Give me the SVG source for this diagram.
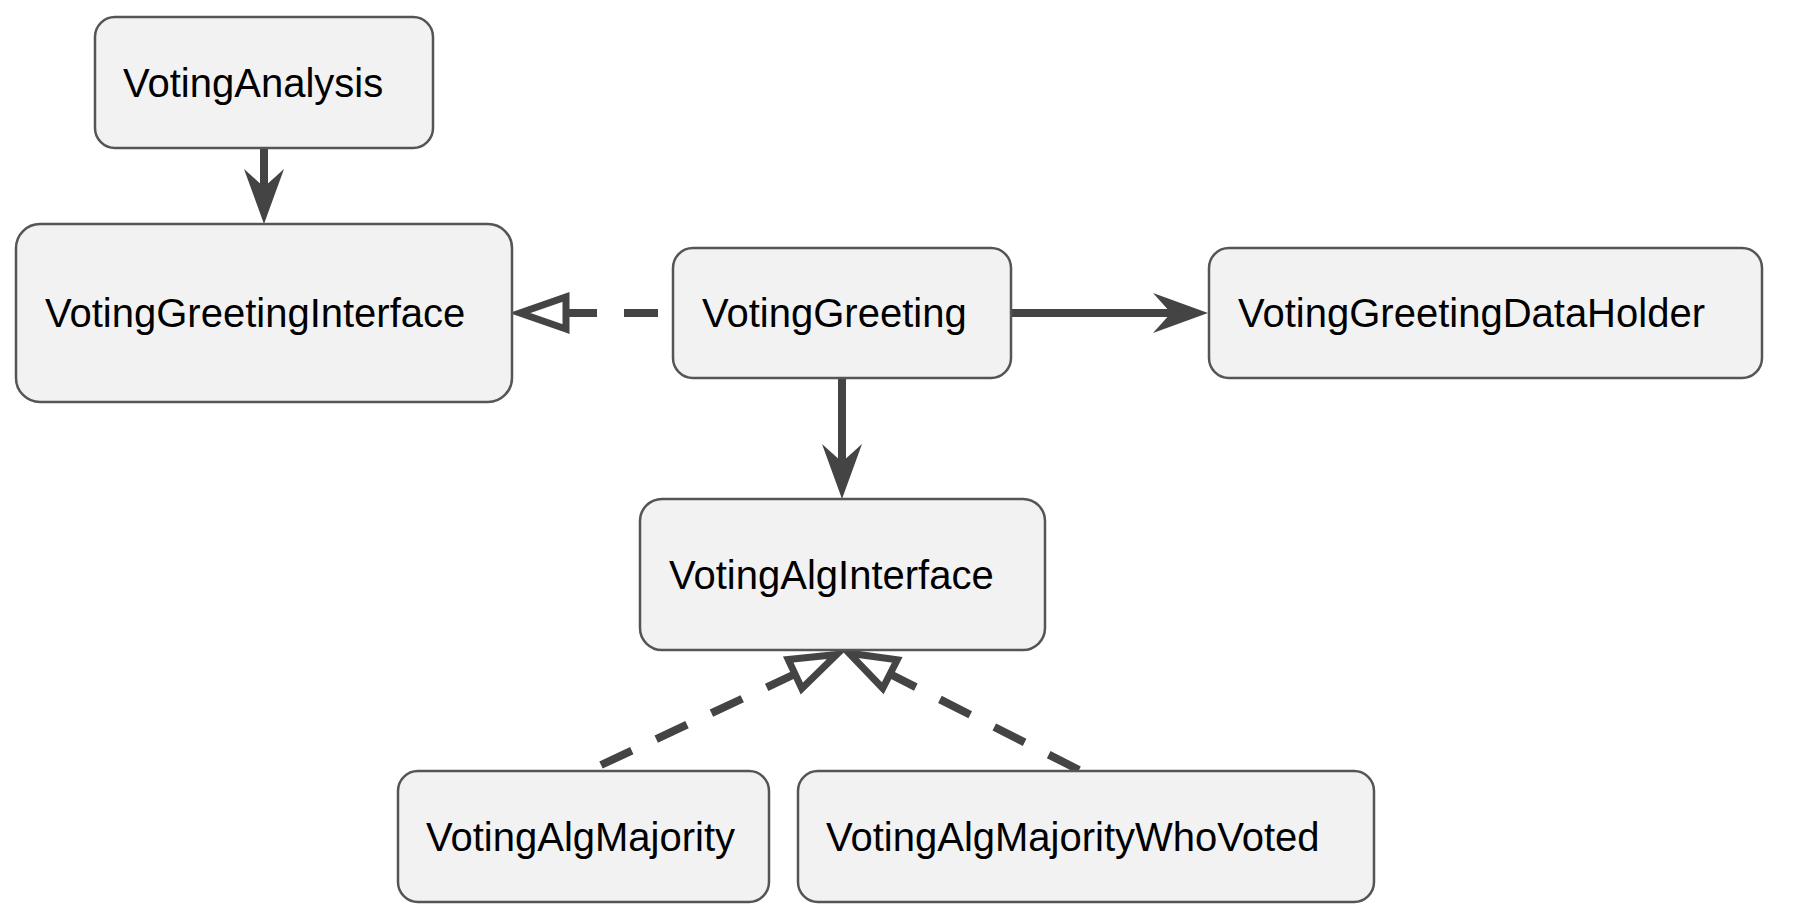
<svg xmlns="http://www.w3.org/2000/svg" width="1794" height="918" viewBox="0 0 1794 918">
<style>
.box{fill:#f2f2f2;stroke:#555555;stroke-width:2.5}
.lbl{font-family:"Liberation Sans",Arial,sans-serif;font-size:40px;fill:#000000}
.edge{fill:none;stroke:#444444;stroke-width:8}
.dash{stroke-dasharray:34 27}
</style>
<defs>
<marker id="barb" markerUnits="userSpaceOnUse" markerWidth="60" markerHeight="44" viewBox="0 0 60 44" refX="18" refY="20" orient="auto" overflow="visible">
<path d="M0,0 L55,20 L0,40 L18,20 Z" fill="#444444"/>
</marker>
<marker id="tri" markerUnits="userSpaceOnUse" markerWidth="60" markerHeight="44" viewBox="0 0 60 44" refX="3" refY="20" orient="auto" overflow="visible">
<path d="M3,4 L49,20 L3,36 Z" fill="#ffffff" stroke="#444444" stroke-width="7" stroke-linejoin="miter"/>
</marker>
</defs>
<rect width="1794" height="918" fill="#ffffff"/>
<g id="connectors">
<path class="edge" d="M264,148 L264,187" marker-end="url(#barb)"/>
<path class="edge" d="M1011,313 L1171,313" marker-end="url(#barb)"/>
<path class="edge" d="M842,378 L842,462" marker-end="url(#barb)"/>
<path class="edge dash" d="M658,313 L566,313" marker-end="url(#tri)"/>
<path class="edge dash" d="M601,765 L795,674" marker-end="url(#tri)"/>
<path class="edge dash" d="M1079,770 L890,674" marker-end="url(#tri)"/>
</g>
<g id="VotingAnalysis">
<rect class="box" x="95" y="17" width="338" height="131" rx="20"/>
<text class="lbl" x="123" y="97">VotingAnalysis</text>
</g>
<g id="VotingGreetingInterface">
<rect class="box" x="16" y="224" width="496" height="178" rx="24"/>
<text class="lbl" x="45" y="327">VotingGreetingInterface</text>
</g>
<g id="VotingGreeting">
<rect class="box" x="673" y="248" width="338" height="130" rx="20"/>
<text class="lbl" x="702" y="327">VotingGreeting</text>
</g>
<g id="VotingGreetingDataHolder">
<rect class="box" x="1209" y="248" width="553" height="130" rx="20"/>
<text class="lbl" x="1238" y="327">VotingGreetingDataHolder</text>
</g>
<g id="VotingAlgInterface">
<rect class="box" x="640" y="499" width="405" height="151" rx="22"/>
<text class="lbl" x="669" y="589">VotingAlgInterface</text>
</g>
<g id="VotingAlgMajority">
<rect class="box" x="398" y="771" width="371" height="131" rx="20"/>
<text class="lbl" x="426" y="851">VotingAlgMajority</text>
</g>
<g id="VotingAlgMajorityWhoVoted">
<rect class="box" x="798" y="771" width="576" height="131" rx="20"/>
<text class="lbl" x="826" y="851">VotingAlgMajorityWhoVoted</text>
</g>
</svg>
